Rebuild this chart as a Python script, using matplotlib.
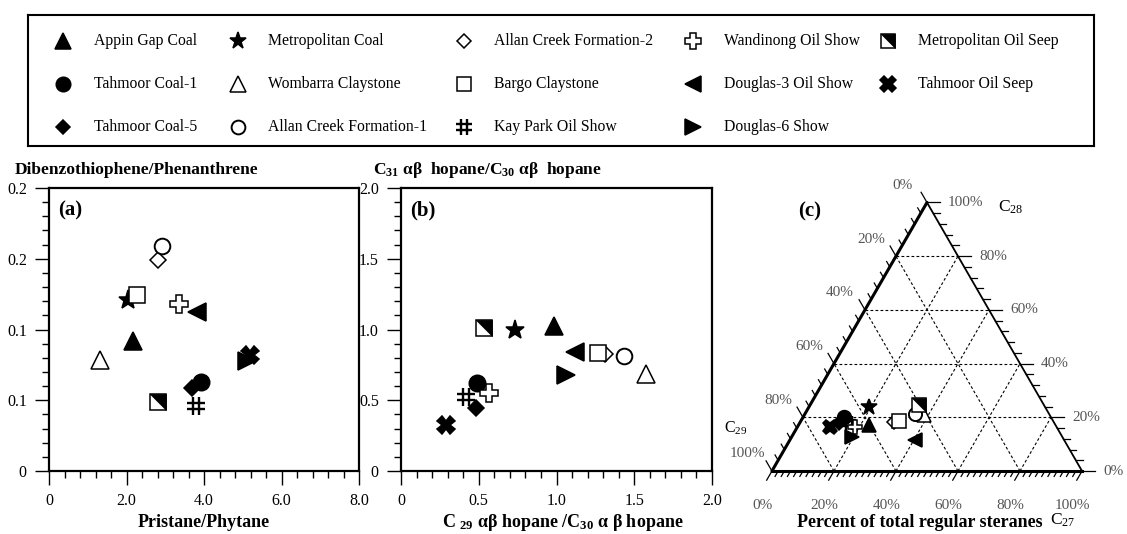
import numpy as np
import matplotlib.pyplot as plt
from matplotlib.path import Path
from matplotlib.ticker import MultipleLocator

plt.rcParams['font.family'] = ['Liberation Serif', 'DejaVu Serif']
plt.rcParams['mathtext.fontset'] = 'custom'
plt.rcParams['mathtext.rm'] = 'Liberation Serif'
plt.rcParams['mathtext.bf'] = 'Liberation Serif:bold'
plt.rcParams['mathtext.it'] = 'Liberation Serif:italic'

# samples (legend order, column by column)
names = ["Appin Gap Coal", "Tahmoor Coal-1", "Tahmoor Coal-5",
         "Metropolitan Coal", "Wombarra Claystone", "Allan Creek Formation-1",
         "Allan Creek Formation-2", "Bargo Claystone", "Kay Park Oil Show",
         "Wandinong Oil Show", "Douglas-3 Oil Show", "Douglas-6 Show",
         "Metropolitan Oil Seep", "Tahmoor Oil Seep"]

# (a) Pristane/Phytane vs DBT/Phen
pr_ph = [2.16, 3.91, 3.70, 2.05, 1.32, 2.91, 2.81, 2.28, 3.80, 3.35, 3.83, 5.10, 2.80, 5.19]
dbt_phen = [0.092, 0.063, 0.0585, 0.121, 0.0785, 0.159, 0.149, 0.1245, 0.046,
            0.118, 0.1125, 0.0774, 0.0488, 0.0818]

# (b) C29/C30 hopane vs C31/C30 hopane
c29_c30 = [0.985, 0.489, 0.483, 0.734, 1.575, 1.434, 1.31, 1.27, 0.418, 0.567,
           1.12, 1.06, 0.532, 0.29]
c31_c30 = [1.026, 0.620, 0.448, 0.993, 0.689, 0.816, 0.828, 0.833, 0.526, 0.554,
           0.844, 0.675, 1.009, 0.325]

# (c) regular steranes, fractions of C27 and C28 (C29 = rest)
c27 = [0.229, 0.130, 0.126, 0.192, 0.385, 0.354, 0.303, 0.318, 0.158, 0.186,
       0.405, 0.194, 0.350, 0.106]
c28 = [0.171, 0.202, 0.178, 0.239, 0.209, 0.212, 0.184, 0.185, 0.178, 0.165,
       0.115, 0.128, 0.246, 0.165]

hash_mk = Path([(-0.35, -1), (-0.35, 1), (0.35, -1), (0.35, 1),
                (-1, -0.35), (1, -0.35), (-1, 0.35), (1, 0.35)],
               [Path.MOVETO, Path.LINETO] * 4)
half_mk = Path([(-1, 1), (1, 1), (1, -1), (-1, 1)],
               [Path.MOVETO, Path.LINETO, Path.LINETO, Path.CLOSEPOLY])

# marker, relative size, face colour, edge width
styles = {
    "Appin Gap Coal": ('^', 1.0, 'black', 1.1),
    "Tahmoor Coal-1": ('o', 0.95, 'black', 1.1),
    "Tahmoor Coal-5": ('D', 0.68, 'black', 1.1),
    "Metropolitan Coal": ('*', 1.15, 'black', 1.1),
    "Wombarra Claystone": ('^', 1.0, 'white', 1.1),
    "Allan Creek Formation-1": ('o', 0.9, 'white', 1.4),
    "Allan Creek Formation-2": ('D', 0.66, 'white', 1.1),
    "Bargo Claystone": ('s', 0.95, 'white', 1.1),
    "Kay Park Oil Show": (hash_mk, 1.0, 'black', 1.7),
    "Wandinong Oil Show": ('P', 1.0, 'white', 1.1),
    "Douglas-3 Oil Show": ('<', 1.0, 'black', 1.1),
    "Douglas-6 Show": ('>', 1.0, 'black', 1.1),
    "Metropolitan Oil Seep": ('s', 0.95, 'white', 1.1),
    "Tahmoor Oil Seep": ('X', 1.0, 'black', 1.1),
}
draw_order = [3, 6, 0, 1, 2, 4, 5, 7, 8, 9, 10, 11, 12, 13]


def put(ax, name, x, y, ms):
    mk, rel, fc, ew = styles[name]
    size = ms * rel
    ax.plot([x], [y], linestyle='none', marker=mk, markersize=size,
            markerfacecolor=fc, markeredgecolor='black', markeredgewidth=ew,
            clip_on=False)
    if name == "Metropolitan Oil Seep":
        ax.plot([x], [y], linestyle='none', marker=half_mk, markersize=size,
                markerfacecolor='black', markeredgecolor='black',
                markeredgewidth=0.5, clip_on=False)


W, H = 1127, 534
fig = plt.figure(figsize=(W / 100, H / 100), dpi=100)

# ---- legend box ----
lg = fig.add_axes([28 / W, 1 - 146 / H, (1094 - 28) / W, (146 - 15) / H])
lg.set_xlim(28, 1094)
lg.set_ylim(146, 15)
lg.set_xticks([])
lg.set_yticks([])
for s in lg.spines.values():
    s.set_linewidth(1.5)
col_x = [63, 238, 464, 693, 888]
row_y = [41, 84, 127]
for i, name in enumerate(names):
    cx, ry = col_x[i // 3], row_y[i % 3]
    put(lg, name, cx, ry, 11)
    lg.text(cx + 30.5, ry, name, fontsize=11.3, va='center', ha='left')


def style_axes(ax):
    for s in ax.spines.values():
        s.set_linewidth(1.6)
    ax.tick_params(which='major', direction='out', length=10, width=1.0,
                   labelsize=11.5, pad=6)
    ax.tick_params(which='minor', direction='out', length=5, width=1.0)


# ---- (a) ----
ax1 = fig.add_axes([49 / W, 1 - 471 / H, 310 / W, 283 / H])
for i in draw_order:
    put(ax1, names[i], pr_ph[i], dbt_phen[i], 12.5)
ax1.set_xlim(0, 8)
ax1.set_ylim(0, 0.2)
ax1.set_xticks([0, 2, 4, 6, 8], ['0', '2.0', '4.0', '6.0', '8.0'])
ax1.set_yticks([0, 0.05, 0.1, 0.15, 0.2], ['0', '0.1', '0.1', '0.2', '0.2'])
ax1.xaxis.set_minor_locator(MultipleLocator(0.4))
ax1.yaxis.set_minor_locator(MultipleLocator(0.01))
style_axes(ax1)
ax1.text(0.03, 0.955, '(a)', transform=ax1.transAxes, fontsize=15,
         fontweight='bold', va='top')
fig.text(15 / W, 1 - 174 / H, 'Dibenzothiophene/Phenanthrene', fontsize=12.5,
         fontweight='bold', va='baseline')
fig.text(204 / W, 1 - 527 / H, 'Pristane/Phytane', fontsize=13,
         fontweight='bold', va='baseline', ha='center')

# ---- (b) ----
ax2 = fig.add_axes([401 / W, 1 - 471 / H, 311 / W, 283 / H])
for i in draw_order:
    put(ax2, names[i], c29_c30[i], c31_c30[i], 12.5)
ax2.set_xlim(0, 2)
ax2.set_ylim(0, 2)
ax2.set_xticks([0, 0.5, 1, 1.5, 2], ['0', '0.5', '1.0', '1.5', '2.0'])
ax2.set_yticks([0, 0.5, 1, 1.5, 2], ['0', '0.5', '1.0', '1.5', '2.0'])
ax2.xaxis.set_minor_locator(MultipleLocator(0.1))
ax2.yaxis.set_minor_locator(MultipleLocator(0.1))
style_axes(ax2)
ax2.text(0.03, 0.955, '(b)', transform=ax2.transAxes, fontsize=15,
         fontweight='bold', va='top')
fig.text(373 / W, 1 - 174 / H,
         r'C$_{\mathbf{31}}$ αβ  hopane/C$_{\mathbf{30}}$ αβ  hopane',
         fontsize=12.5, fontweight='bold', va='baseline')
fig.text(563 / W, 1 - 527 / H,
         r'C $_{\mathbf{29}}$ αβ hopane /C$_{\mathbf{30}}$ α β hopane',
         fontsize=13, fontweight='bold', va='baseline', ha='center')

# ---- (c) ternary ----
ax3 = fig.add_axes([740 / W, 0, 387 / W, 374 / H])
ax3.set_xlim(-0.103, 1.145)
ax3.set_ylim(-0.203, 1.003)
ax3.axis('off')
h = np.sqrt(3) / 2


def tern(a27, a28):
    a27 = np.asarray(a27, dtype=float)
    a28 = np.asarray(a28, dtype=float)
    return a27 + a28 / 2, a28 * h


ax3.plot([0, 0.5], [0, h], color='black', lw=2.2, solid_capstyle='round')
ax3.plot([0, 1], [0, 0], color='black', lw=2.2)
ax3.plot([1, 0.5], [0, h], color='black', lw=1.3)

for v in [0.2, 0.4, 0.6, 0.8]:
    for p, q in [((0, v), (1 - v, v)), ((v, 0), (v, 1 - v)),
                 ((1 - v, 0), (0, 1 - v))]:
        x0, y0 = tern(*p)
        x1, y1 = tern(*q)
        ax3.plot([x0, x1], [y0, y1], color='black', lw=0.8,
                 linestyle=(0, (2.5, 2)))

gray = '#555555'
# right side ticks (C28)
for k in range(26):
    c = k * 0.04
    x0, y0 = tern(1 - c, c)
    L = 0.042 if k % 5 == 0 else 0.022
    ax3.plot([x0, x0 + L], [y0, y0], color='black', lw=0.9)
# left side ticks (C29)
for k in range(26):
    c = k * 0.04
    x0, y0 = tern(0, 1 - c)
    L = 0.038 if k % 5 == 0 else 0.02
    ax3.plot([x0, x0 - 0.5 * L], [y0, y0 + h * L], color='black', lw=0.9)
# bottom ticks (C27)
for k in range(51):
    c = k * 0.02
    L = 0.034 if k % 10 == 0 else 0.02
    ax3.plot([c, c - 0.5 * L], [0, -h * L], color='black', lw=0.9)

for k in range(6):
    c = k * 0.2
    lab = f'{int(round(c * 100))}%'
    x0, y0 = tern(1 - c, c)
    ax3.text(x0 + 0.068, y0, lab, fontsize=11, color=gray, va='center', ha='left')
    x0, y0 = tern(0, 1 - c)
    ax3.text(x0 - 0.08, y0 + 0.055, lab, fontsize=11, color=gray,
             va='center', ha='center')
    ax3.text(c - 0.03, -0.11, lab, fontsize=11, color=gray,
             va='center', ha='center')

ax3.text(0.728, 0.85, r'C$_{28}$', fontsize=12.5, va='center', ha='left')
ax3.text(-0.118, 0.137, r'C$_{29}$', fontsize=11.5, va='center', ha='center')
ax3.text(0.478, -0.181, 'Percent of total regular steranes', fontsize=13,
         fontweight='bold', va='baseline', ha='center')
ax3.text(0.896, -0.16, r'C$_{27}$', fontsize=12.5, va='center', ha='left')
ax3.text(0.123, 0.836, '(c)', fontsize=15, fontweight='bold',
         va='center', ha='center')

tx, ty = tern(c27, c28)
for i in draw_order:
    put(ax3, names[i], tx[i], ty[i], 10.5)

fig.savefig('out.png', dpi=100)
